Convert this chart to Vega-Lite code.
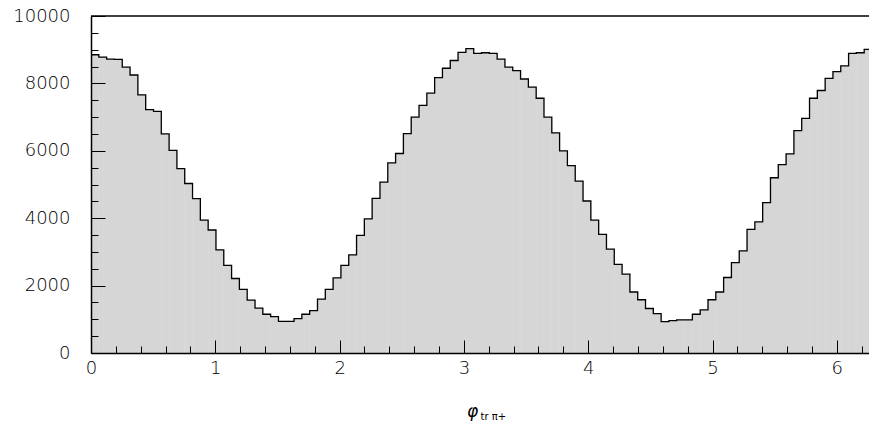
{
  "$schema": "https://vega.github.io/schema/vega-lite/v6.json",
  "width": 778,
  "height": 337,
  "autosize": {"type": "none"},
  "padding": {"left": 91, "top": 16, "right": 0, "bottom": 82},
  "background": "white",
  "config": {"view": {"stroke": null}, "font": "DejaVu Sans"},
  "data": {"values": [
    {"lo": 0.0000, "hi": 0.0628, "count": 8850},
    {"lo": 0.0628, "hi": 0.1257, "count": 8780},
    {"lo": 0.1257, "hi": 0.1885, "count": 8720},
    {"lo": 0.1885, "hi": 0.2513, "count": 8710},
    {"lo": 0.2513, "hi": 0.3142, "count": 8480},
    {"lo": 0.3142, "hi": 0.3770, "count": 8250},
    {"lo": 0.3770, "hi": 0.4398, "count": 7660},
    {"lo": 0.4398, "hi": 0.5027, "count": 7220},
    {"lo": 0.5027, "hi": 0.5655, "count": 7170},
    {"lo": 0.5655, "hi": 0.6283, "count": 6500},
    {"lo": 0.6283, "hi": 0.6912, "count": 6010},
    {"lo": 0.6912, "hi": 0.7540, "count": 5470},
    {"lo": 0.7540, "hi": 0.8168, "count": 5030},
    {"lo": 0.8168, "hi": 0.8796, "count": 4580},
    {"lo": 0.8796, "hi": 0.9425, "count": 3940},
    {"lo": 0.9425, "hi": 1.0053, "count": 3650},
    {"lo": 1.0053, "hi": 1.0681, "count": 3060},
    {"lo": 1.0681, "hi": 1.1310, "count": 2600},
    {"lo": 1.1310, "hi": 1.1938, "count": 2210},
    {"lo": 1.1938, "hi": 1.2566, "count": 1890},
    {"lo": 1.2566, "hi": 1.3195, "count": 1570},
    {"lo": 1.3195, "hi": 1.3823, "count": 1330},
    {"lo": 1.3823, "hi": 1.4451, "count": 1150},
    {"lo": 1.4451, "hi": 1.5080, "count": 1080},
    {"lo": 1.5080, "hi": 1.5708, "count": 940},
    {"lo": 1.5708, "hi": 1.6336, "count": 940},
    {"lo": 1.6336, "hi": 1.6965, "count": 1020},
    {"lo": 1.6965, "hi": 1.7593, "count": 1150},
    {"lo": 1.7593, "hi": 1.8221, "count": 1260},
    {"lo": 1.8221, "hi": 1.8850, "count": 1600},
    {"lo": 1.8850, "hi": 1.9478, "count": 1890},
    {"lo": 1.9478, "hi": 2.0106, "count": 2230},
    {"lo": 2.0106, "hi": 2.0735, "count": 2600},
    {"lo": 2.0735, "hi": 2.1363, "count": 2910},
    {"lo": 2.1363, "hi": 2.1991, "count": 3490},
    {"lo": 2.1991, "hi": 2.2619, "count": 3980},
    {"lo": 2.2619, "hi": 2.3248, "count": 4590},
    {"lo": 2.3248, "hi": 2.3876, "count": 5070},
    {"lo": 2.3876, "hi": 2.4504, "count": 5640},
    {"lo": 2.4504, "hi": 2.5133, "count": 5920},
    {"lo": 2.5133, "hi": 2.5761, "count": 6510},
    {"lo": 2.5761, "hi": 2.6389, "count": 7000},
    {"lo": 2.6389, "hi": 2.7018, "count": 7350},
    {"lo": 2.7018, "hi": 2.7646, "count": 7710},
    {"lo": 2.7646, "hi": 2.8274, "count": 8170},
    {"lo": 2.8274, "hi": 2.8903, "count": 8450},
    {"lo": 2.8903, "hi": 2.9531, "count": 8680},
    {"lo": 2.9531, "hi": 3.0159, "count": 8920},
    {"lo": 3.0159, "hi": 3.0788, "count": 9030},
    {"lo": 3.0788, "hi": 3.1416, "count": 8890},
    {"lo": 3.1416, "hi": 3.2044, "count": 8910},
    {"lo": 3.2044, "hi": 3.2673, "count": 8890},
    {"lo": 3.2673, "hi": 3.3301, "count": 8720},
    {"lo": 3.3301, "hi": 3.3929, "count": 8480},
    {"lo": 3.3929, "hi": 3.4558, "count": 8380},
    {"lo": 3.4558, "hi": 3.5186, "count": 8130},
    {"lo": 3.5186, "hi": 3.5814, "count": 7890},
    {"lo": 3.5814, "hi": 3.6442, "count": 7560},
    {"lo": 3.6442, "hi": 3.7071, "count": 7000},
    {"lo": 3.7071, "hi": 3.7699, "count": 6530},
    {"lo": 3.7699, "hi": 3.8327, "count": 6000},
    {"lo": 3.8327, "hi": 3.8956, "count": 5560},
    {"lo": 3.8956, "hi": 3.9584, "count": 5100},
    {"lo": 3.9584, "hi": 4.0212, "count": 4510},
    {"lo": 4.0212, "hi": 4.0841, "count": 3940},
    {"lo": 4.0841, "hi": 4.1469, "count": 3520},
    {"lo": 4.1469, "hi": 4.2097, "count": 3080},
    {"lo": 4.2097, "hi": 4.2726, "count": 2630},
    {"lo": 4.2726, "hi": 4.3354, "count": 2340},
    {"lo": 4.3354, "hi": 4.3982, "count": 1810},
    {"lo": 4.3982, "hi": 4.4611, "count": 1580},
    {"lo": 4.4611, "hi": 4.5239, "count": 1320},
    {"lo": 4.5239, "hi": 4.5867, "count": 1170},
    {"lo": 4.5867, "hi": 4.6496, "count": 930},
    {"lo": 4.6496, "hi": 4.7124, "count": 960},
    {"lo": 4.7124, "hi": 4.7752, "count": 980},
    {"lo": 4.7752, "hi": 4.8381, "count": 980},
    {"lo": 4.8381, "hi": 4.9009, "count": 1150},
    {"lo": 4.9009, "hi": 4.9637, "count": 1280},
    {"lo": 4.9637, "hi": 5.0265, "count": 1580},
    {"lo": 5.0265, "hi": 5.0894, "count": 1810},
    {"lo": 5.0894, "hi": 5.1522, "count": 2240},
    {"lo": 5.1522, "hi": 5.2150, "count": 2680},
    {"lo": 5.2150, "hi": 5.2779, "count": 3030},
    {"lo": 5.2779, "hi": 5.3407, "count": 3670},
    {"lo": 5.3407, "hi": 5.4035, "count": 3890},
    {"lo": 5.4035, "hi": 5.4664, "count": 4460},
    {"lo": 5.4664, "hi": 5.5292, "count": 5200},
    {"lo": 5.5292, "hi": 5.5920, "count": 5590},
    {"lo": 5.5920, "hi": 5.6549, "count": 5910},
    {"lo": 5.6549, "hi": 5.7177, "count": 6600},
    {"lo": 5.7177, "hi": 5.7805, "count": 6960},
    {"lo": 5.7805, "hi": 5.8434, "count": 7560},
    {"lo": 5.8434, "hi": 5.9062, "count": 7790},
    {"lo": 5.9062, "hi": 5.9690, "count": 8150},
    {"lo": 5.9690, "hi": 6.0319, "count": 8350},
    {"lo": 6.0319, "hi": 6.0947, "count": 8520},
    {"lo": 6.0947, "hi": 6.1575, "count": 8890},
    {"lo": 6.1575, "hi": 6.2204, "count": 8910},
    {"lo": 6.2204, "hi": 6.2832, "count": 9010}
  ]},
  "layer": [
    {
      "mark": {"type": "rect", "fill": "#d6d6d6", "stroke": "#d6d6d6", "strokeWidth": 0.6, "clip": true},
      "encoding": {
        "x": {"field": "lo", "type": "quantitative",
          "scale": {"domain": [0, 6.259], "nice": false, "zero": false},
          "axis": {"orient": "bottom", "values": [0, 1, 2, 3, 4, 5, 6], "format": "d",
            "tickSize": -13, "tickColor": "black", "tickWidth": 1,
            "domainColor": "black", "domainWidth": 1.5,
            "labelFont": "DejaVu Sans", "labelFontSize": 18, "labelFontWeight": 200, "labelColor": "black",
            "labelPadding": 19, "labelFlush": false, "labelOverlap": false, "grid": false,
            "title": "φ", "titleFont": "DejaVu Sans", "titleFontSize": 17, "titleFontStyle": "italic",
            "titleFontWeight": "normal", "titleColor": "black",
            "titleX": 381, "titleY": 63, "titleAlign": "center", "titleBaseline": "alphabetic",
            "zindex": 2}},
        "x2": {"field": "hi"},
        "y": {"field": "count", "type": "quantitative",
          "scale": {"domain": [0, 10000], "nice": false},
          "axis": {"orient": "left", "values": [0, 2000, 4000, 6000, 8000, 10000], "format": "d",
            "tickSize": -14, "tickColor": "black", "tickWidth": 1,
            "domainColor": "black", "domainWidth": 1.5,
            "labelFont": "DejaVu Sans", "labelFontSize": 18, "labelFontWeight": 200, "labelColor": "black",
            "labelPadding": 35, "labelFlush": false, "labelOverlap": false, "grid": false,
            "title": null, "zindex": 2}},
        "y2": {"datum": 0}
      }
    },
    {
      "transform": [{"fold": ["lo", "hi"], "as": ["edge", "phi"]}],
      "mark": {"type": "line", "stroke": "black", "strokeWidth": 1.3, "clip": true},
      "encoding": {
        "x": {"field": "phi", "type": "quantitative",
          "axis": {"orient": "bottom",
            "values": [0, 0.2, 0.4, 0.6, 0.8, 1, 1.2, 1.4, 1.6, 1.8, 2, 2.2, 2.4, 2.6, 2.8, 3, 3.2, 3.4, 3.6, 3.8, 4, 4.2, 4.4, 4.6, 4.8, 5, 5.2, 5.4, 5.6, 5.8, 6, 6.2],
            "tickSize": -7, "tickColor": "black", "tickWidth": 1,
            "domain": false, "labels": false, "grid": false,
            "title": "tr π+", "titleFont": "DejaVu Sans", "titleFontSize": 10,
            "titleFontWeight": "normal", "titleColor": "black",
            "titleX": 389, "titleY": 66, "titleAlign": "left", "titleBaseline": "alphabetic",
            "zindex": 2}},
        "y": {"field": "count", "type": "quantitative",
          "axis": {"orient": "left",
            "values": [0, 500, 1000, 1500, 2000, 2500, 3000, 3500, 4000, 4500, 5000, 5500, 6000, 6500, 7000, 7500, 8000, 8500, 9000, 9500, 10000],
            "tickSize": -7, "tickColor": "black", "tickWidth": 1,
            "domain": false, "labels": false, "grid": false, "title": null, "zindex": 2}},
        "order": [{"field": "phi", "type": "quantitative"}, {"field": "edge", "type": "nominal"}]
      }
    },
    {
      "data": {"values": [{"top": 10000}]},
      "mark": {"type": "rule", "stroke": "black", "strokeWidth": 1.5},
      "encoding": {"y": {"field": "top", "type": "quantitative", "axis": null}}
    }
  ],
  "resolve": {"axis": {"x": "independent", "y": "independent"}}
}
